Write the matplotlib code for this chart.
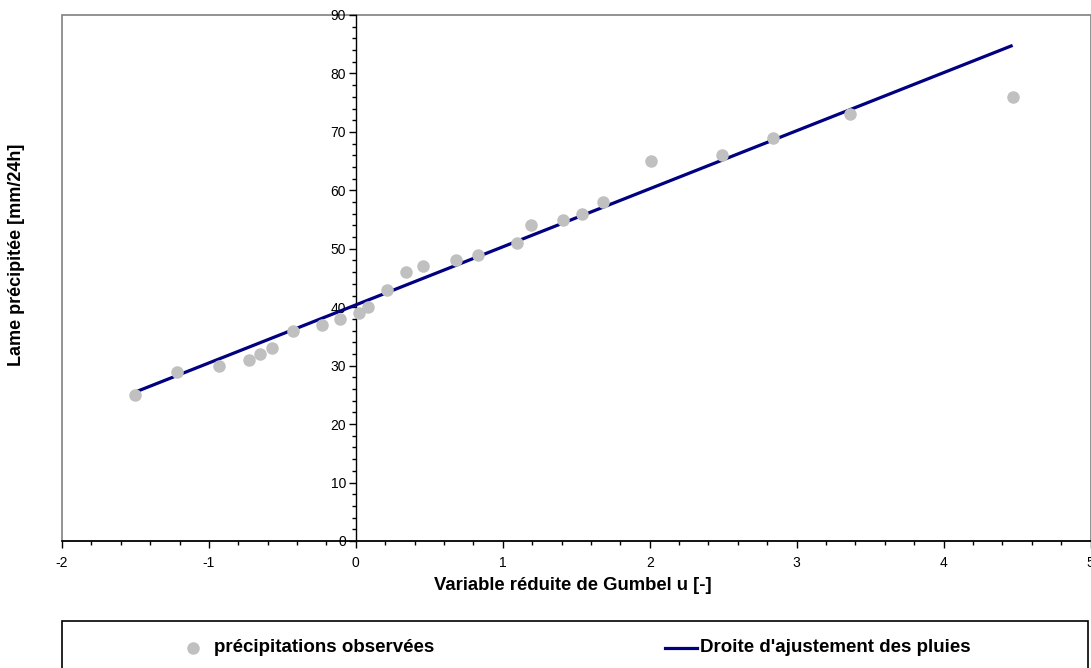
import matplotlib
matplotlib.use("Agg")
import matplotlib.pyplot as plt
from matplotlib.patches import Rectangle
from matplotlib.lines import Line2D
from matplotlib.ticker import MultipleLocator, FuncFormatter

# ---- data ----
u_obs = [-1.50, -1.22, -0.93, -0.73, -0.65, -0.57, -0.43, -0.23, -0.11, 0.02,
         0.08, 0.21, 0.34, 0.46, 0.68, 0.83, 1.10, 1.19, 1.41, 1.54,
         1.68, 2.01, 2.49, 2.84, 3.36, 4.47]
p_obs = [25, 29, 30, 31, 32, 33, 36, 37, 38, 39,
         40, 43, 46, 47, 48, 49, 51, 54, 55, 56,
         58, 65, 66, 69, 73, 76]
u_fit = [-1.50, 4.47]
p_fit = [25.5, 84.8]

x_ticks = [-2, -1, 0, 1, 2, 3, 4, 5]
y_ticks = [0, 10, 20, 30, 40, 50, 60, 70, 80, 90]

label_obs = "précipitations observées"
label_fit = "Droite d'ajustement des pluies"
x_label = "Variable réduite de Gumbel u [-]"
y_label = "Lame précipitée [mm/24h]"

plt.rcParams['font.family'] = ['Liberation Sans', 'DejaVu Sans']

W, H = 1091, 668
fig = plt.figure(figsize=(W / 100, H / 100), dpi=100)

def fx(px):
    return px / W

def fy(py):
    return 1 - py / H

left, right, top, bottom = 62, 1090.5, 15, 541
ax = fig.add_axes([fx(left), fy(bottom), (right - left) / W, (bottom - top) / H])
ax.set_xlim(-2, 5)
ax.set_ylim(0, 90)

# grey plot-area frame
ax.add_patch(Rectangle((0, 0), 1, 1, transform=ax.transAxes, fill=False,
                       edgecolor='#808080', linewidth=1.2, clip_on=False, zorder=0))

for s in ['top', 'right']:
    ax.spines[s].set_visible(False)
ax.spines['left'].set_position(('data', 0))
ax.spines['left'].set_color('black')
ax.spines['left'].set_linewidth(1.0)
ax.spines['bottom'].set_color('black')
ax.spines['bottom'].set_linewidth(1.2)

plain = FuncFormatter(lambda v, pos: f"{v:g}")
ax.set_xticks(x_ticks)
ax.set_yticks(y_ticks)
ax.xaxis.set_major_formatter(plain)
ax.yaxis.set_major_formatter(plain)
ax.xaxis.set_minor_locator(MultipleLocator(0.2))
ax.yaxis.set_minor_locator(MultipleLocator(2))
ax.tick_params(axis='both', which='major', direction='out', length=5, width=1,
               labelsize=10, colors='black')
ax.tick_params(axis='both', which='minor', direction='out', length=3, width=1)
ax.tick_params(axis='x', which='major', pad=6)
ax.tick_params(axis='y', which='major', pad=2)

ax.plot(u_fit, p_fit, color='#000080', linewidth=2.3, zorder=3, solid_capstyle='butt')
ax.plot(u_obs, p_obs, linestyle='none', marker='o', markersize=8,
        markerfacecolor='#C0C0C0', markeredgecolor='#C0C0C0', zorder=4)

fig.text(fx(573), fy(585), x_label, ha='center', va='center',
         fontsize=13.3, fontweight='bold')
fig.text(fx(17), fy(255), y_label, ha='center', va='center', rotation=90,
         fontsize=13, fontweight='bold')

# legend box
fig.add_artist(Rectangle((fx(62), fy(690)), (1088 - 62) / W, (690 - 621) / H,
                         transform=fig.transFigure, fill=False, edgecolor='black',
                         linewidth=1.2))
fig.add_artist(Line2D([fx(193)], [fy(648)], transform=fig.transFigure,
                      linestyle='none', marker='o', markersize=8,
                      markerfacecolor='#C0C0C0', markeredgecolor='#C0C0C0'))
fig.text(fx(214), fy(648), label_obs, ha='left', va='center',
         fontsize=13.5, fontweight='bold')
fig.add_artist(Line2D([fx(665), fx(697)], [fy(648), fy(648)],
                      transform=fig.transFigure, color='#000080', linewidth=2.3))
fig.text(fx(700), fy(648), label_fit, ha='left', va='center',
         fontsize=13.5, fontweight='bold')

fig.savefig('out.png', dpi=100)
